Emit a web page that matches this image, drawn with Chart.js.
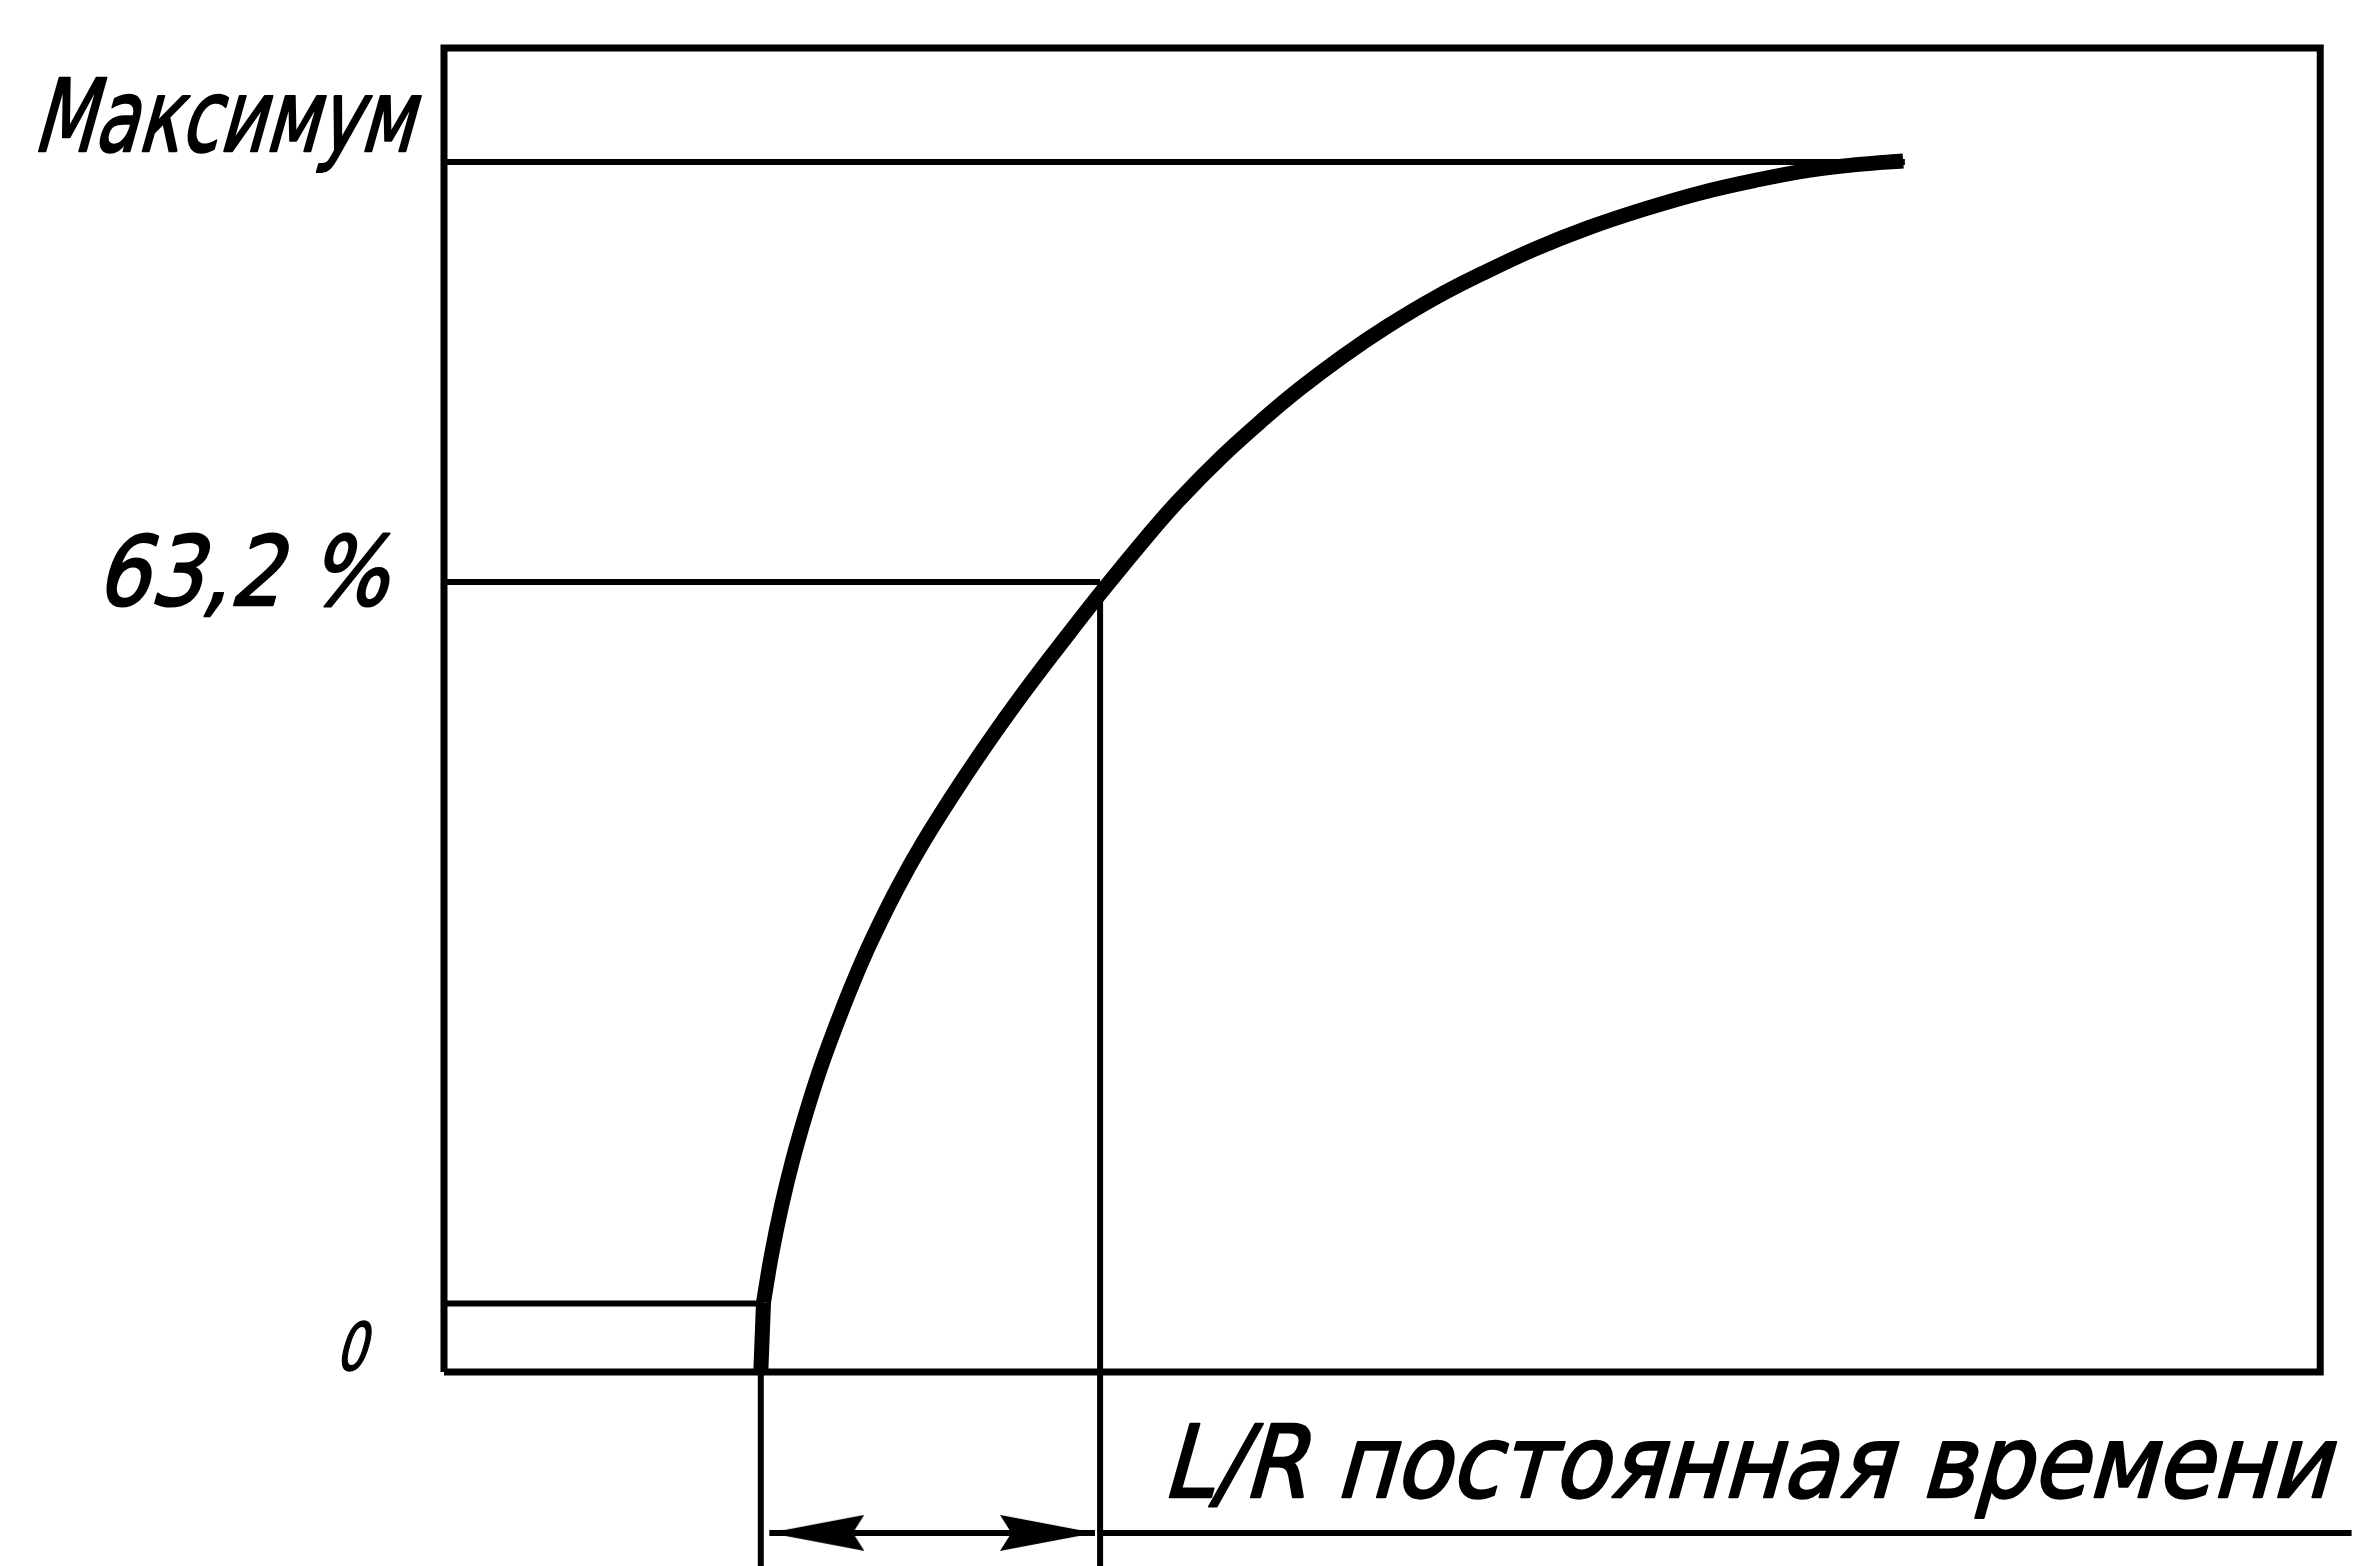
<!DOCTYPE html>
<html lang="ru">
<head>
<meta charset="utf-8">
<title>L/R постоянная времени</title>
<script src="https://cdn.jsdelivr.net/npm/chart.js@4.4.1/dist/chart.umd.min.js"></script>
<style>
  html, body { margin: 0; padding: 0; background: #fff; }
  #wrap { position: relative; width: 2369px; height: 1566px; }
</style>
</head>
<body>
<div id="wrap"><canvas id="chart"></canvas></div>
<script>
// ---- data ----
// time in units of L/R (0 = switching on), level in % of maximum
const curveT = [0.013, 0.036, 0.067, 0.098, 0.136, 0.174, 0.220, 0.274, 0.328, 0.404, 0.481, 0.589, 0.696, 0.803, 0.911, 1.003,
                1.135, 1.232, 1.361, 1.472, 1.584, 1.713, 1.842, 1.988, 2.132, 2.276, 2.437, 2.598, 2.760, 2.921, 3.082, 3.226, 3.355];
const curveV = [0.1, 4.2, 8.7, 12.5, 16.5, 20.1, 23.9, 28.0, 31.7, 36.3, 40.4, 45.5, 50.2, 54.6, 58.8, 62.3,
                67.1, 70.4, 74.3, 77.3, 80.1, 83.0, 85.6, 88.2, 90.4, 92.4, 94.3, 95.9, 97.3, 98.4, 99.3, 99.8, 100.1];
// thick stem of the curve between the bottom side and the starting level
const stemT = [0.005, 0.013];
const stemV = [-6, 0.1];

// frame of the plot and the level lines drawn from its left side
const frameT = [-0.924, 4.578];
const frameV = [-6, 110];
const levelV    = [100, 63.2, 0];
const levelEndT = [3.36, 1, 0.013];
const levelText = ['Максимум', '63,2 %', '0'];   // "0" sits on the bottom side

// leaders under the frame + the L/R dimension
const leaderT    = [0.005, 1];
const leaderTopV = [-6, 63.2];
const dimV       = -20.1;
const arrowT     = [0.03, 0.985];
const underlineT = [1, 4.67];
const dimText    = 'L/R постоянная времени';

// whole canvas is the plotting area
const viewT = [-2.226, 4.721];
const viewV = [-23, 114.2];

// ---- helpers ----
const INK = '#000';

function seg(points, width) {
  return {
    data: points.map(([x, y]) => ({ x, y })),
    borderColor: INK,
    borderWidth: width,
    pointRadius: 0,
    tension: 0,
    fill: false
  };
}

// long narrow arrow head, tip in the centre of the image
function arrowHead(len, half) {
  const c = document.createElement('canvas');
  c.width = len * 2;
  c.height = half * 2;
  const g = c.getContext('2d');
  g.fillStyle = INK;
  g.beginPath();
  g.moveTo(len, half);
  g.lineTo(0, 0);
  g.lineTo(len * 0.12, half);
  g.lineTo(0, half * 2);
  g.closePath();
  g.fill();
  return c;
}

const fontFamily = '"DejaVu Sans", "Liberation Sans", sans-serif';
const slant = 0.28;

// narrow slanted lettering, a bit heavier than the plain face
function drawGost(ctx, text, x, base, size, width) {
  ctx.save();
  ctx.font = size + 'px ' + fontFamily;
  const w = ctx.measureText(text).width;
  ctx.translate(x, base);
  ctx.transform(1, 0, -slant, 1, 0, 0);
  ctx.scale(width / w, 1);
  ctx.fillStyle = INK;
  ctx.strokeStyle = INK;
  ctx.lineWidth = size * 0.025;
  ctx.lineJoin = 'round';
  ctx.textBaseline = 'alphabetic';
  ctx.fillText(text, 0, 0);
  ctx.strokeText(text, 0, 0);
  ctx.restore();
}

const labelPlugin = {
  id: 'gostLabels',
  afterDatasetsDraw(chart) {
    const { ctx, scales: { x, y } } = chart;
    // y-side labels: [left x, baseline offset, size, width]
    const place = [
      [32, -11, 100, 380],
      [95, 23, 96, 292],
      [335, -2, 66, 30]
    ];
    const valueAt = [levelV[0], levelV[1], frameV[0]];
    levelText.forEach((t, i) => {
      const p = place[i];
      drawGost(ctx, t, p[0], y.getPixelForValue(valueAt[i]) + p[1], p[2], p[3]);
    });
    drawGost(ctx, dimText, x.getPixelForValue(underlineT[0]) + 61,
      y.getPixelForValue(dimV) - 36, 100, 1168);
  }
};

// ---- datasets ----
const datasets = [];

// frame
datasets.push(seg([
  [frameT[0], frameV[0]], [frameT[1], frameV[0]], [frameT[1], frameV[1]],
  [frameT[0], frameV[1]], [frameT[0], frameV[0]]
], 7));

// level lines
levelV.forEach((v, i) => datasets.push(seg([[frameT[0], v], [levelEndT[i], v]], 6)));

// leaders down to the bottom edge
leaderT.forEach((t, i) => datasets.push(seg([[t, leaderTopV[i]], [t, viewV[0] - 1]], 6)));

// underline of the caption
datasets.push(seg([[underlineT[0], dimV], [underlineT[1], dimV]], 6));

// dimension arrow
const head = arrowHead(95, 18);
datasets.push({
  data: arrowT.map(t => ({ x: t, y: dimV })),
  borderColor: INK,
  borderWidth: 6,
  pointStyle: head,
  pointRotation: [180, 0],
  pointRadius: 10,
  tension: 0
});

// the rise curve: stem + smooth part
datasets.push(seg(stemT.map((t, i) => [t, stemV[i]]), 15));
datasets.push({
  data: curveT.map((t, i) => ({ x: t, y: curveV[i] })),
  borderColor: INK,
  borderWidth: 15,
  pointRadius: 0,
  tension: 0.4,
  fill: false
});

new Chart(document.getElementById('chart'), {
  type: 'line',
  data: { datasets },
  options: {
    responsive: true,
    maintainAspectRatio: false,
    animation: false,
    events: [],
    layout: { padding: 0, autoPadding: false },
    plugins: { legend: { display: false }, tooltip: { enabled: false } },
    scales: {
      x: { type: 'linear', min: viewT[0], max: viewT[1], display: false },
      y: { type: 'linear', min: viewV[0], max: viewV[1], display: false }
    }
  },
  plugins: [labelPlugin]
});
</script>
</body>
</html>
